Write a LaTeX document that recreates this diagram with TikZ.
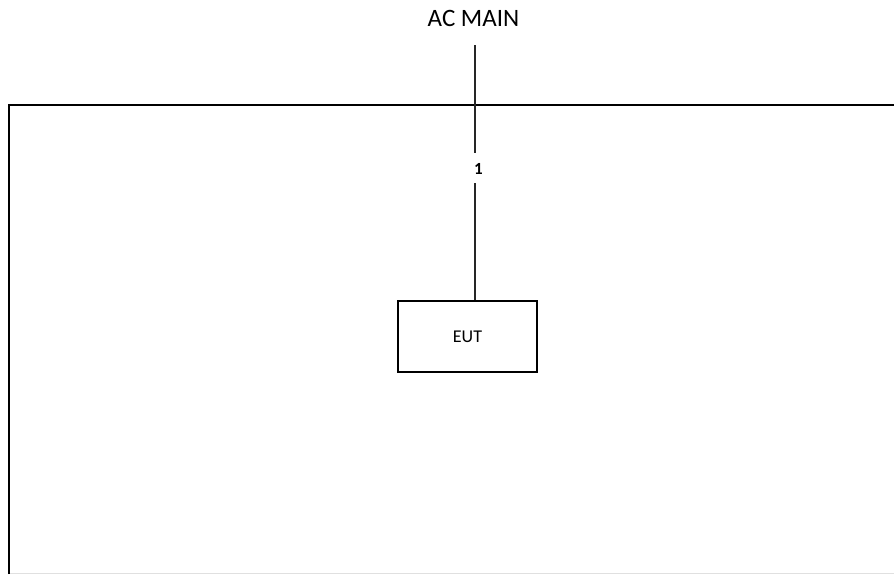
\documentclass[tikz,border=0pt]{standalone}
\usepackage{fontspec}
\setmainfont{Carlito}
\begin{document}
\begin{tikzpicture}[x=1pt,y=-1pt,
  frame/.style={line width=2.5pt,black},
  wire/.style={line width=1.3pt,black!85},
  eutbox/.style={draw,line width=2pt,minimum width=139pt,minimum height=71pt,inner sep=0pt,font=\fontsize{18}{20}\selectfont},
  lbl/.style={inner sep=0pt,font=\bfseries\fontsize{17}{19}\selectfont}]
\useasboundingbox (0,0) rectangle (894,574);
\fill[white] (0,0) rectangle (894,574);
\node[inner sep=0pt,font=\fontsize{25}{28}\selectfont] (ac) at (473.5,18.5) {AC MAIN};
\coordinate (top) at (475,45);
\node[lbl] (one) at (478.5,169) {1};
\node[eutbox] (eut) at (467.5,336.5) {EUT};
\draw[frame] (9,574) -- (9,105) -- (894,105);
\draw[black!12,line width=1pt] (10,573) -- (894,573);
\draw[wire] (top) -- (475,153);
\draw[wire] (475,183) -- (eut.north -| 475,0);
\end{tikzpicture}
\end{document}
